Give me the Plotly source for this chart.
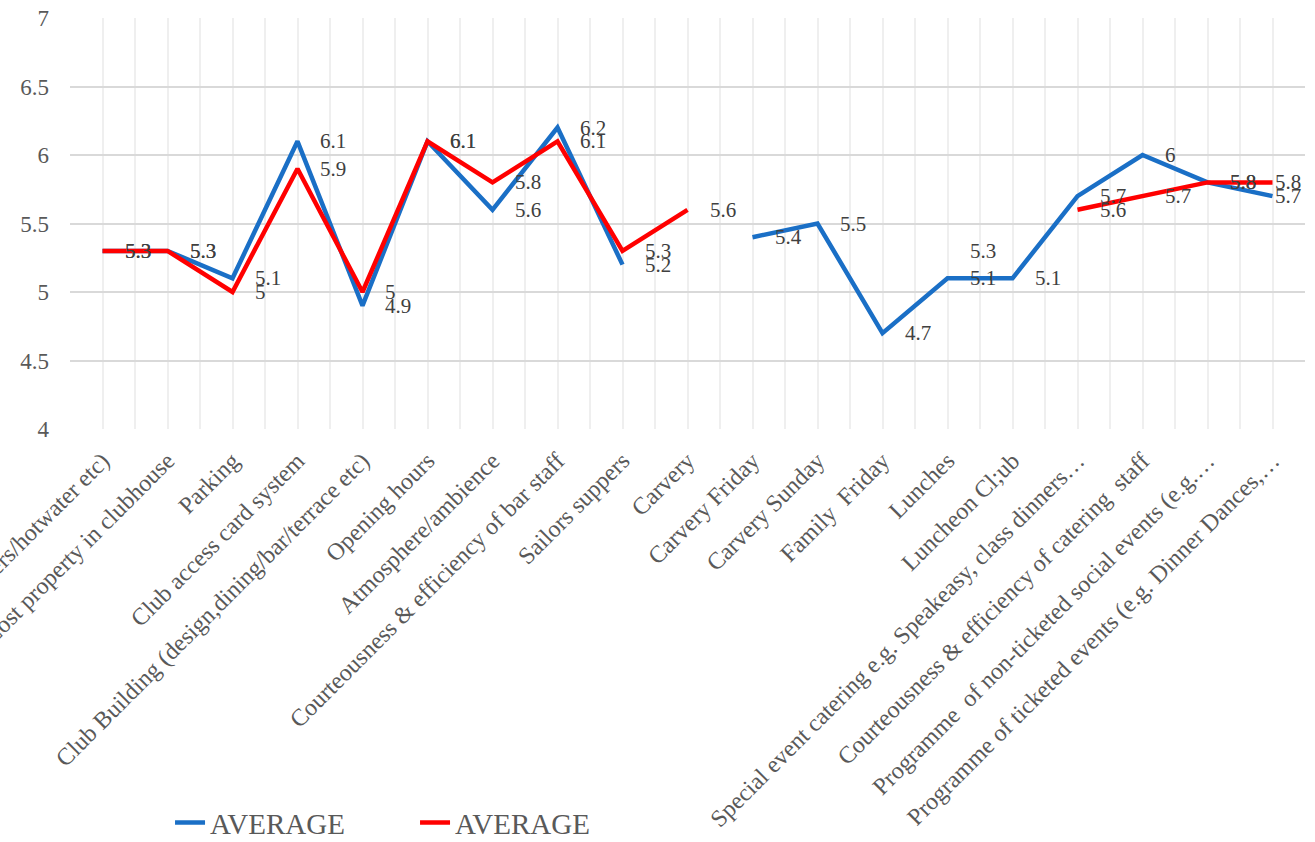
import plotly.graph_objects as go

# Survey items (x axis)
categories = [
    "Changing rooms (showers/hotwater etc)",
    "Lost property in clubhouse",
    "Parking",
    "Club access card system",
    "Club Building (design,dining/bar/terrace etc)",
    "Opening hours",
    "Atmosphere/ambience",
    "Courteousness & efficiency of bar staff",
    "Sailors suppers",
    "Carvery",
    "Carvery Friday",
    "Carvery Sunday",
    "Family  Friday",
    "Lunches",
    "Luncheon Cl;ub",
    "Special event catering e.g. Speakeasy, class dinners…",
    "Courteousness & efficiency of catering  staff",
    "Programme  of non-ticketed social events (e.g.…",
    "Programme of ticketed events (e.g. Dinner Dances,…",
]

# Average scores for the two survey series (None = no response)
average_blue = [5.3, 5.3, 5.1, 6.1, 4.9, 6.1, 5.6, 6.2, 5.2, None,
                5.4, 5.5, 4.7, 5.1, 5.1, 5.7, 6.0, 5.8, 5.7]
average_red = [5.3, 5.3, 5.0, 5.9, 5.0, 6.1, 5.8, 6.1, 5.3, 5.6,
               None, None, None, 5.3, None, 5.6, 5.7, 5.8, 5.8]

series_names = ["AVERAGE", "AVERAGE"]
y_ticks = [4, 4.5, 5, 5.5, 6, 6.5, 7]

BLUE = "#1a6fc6"
RED = "#ff0000"
FONT = "Liberation Serif, Times New Roman, serif"

x_pos = list(range(len(categories)))
last = len(categories) - 1

fig = go.Figure()
for name, values, color in [(series_names[0], average_blue, BLUE),
                            (series_names[1], average_red, RED)]:
    fig.add_trace(go.Scatter(
        x=x_pos, y=values, mode="lines", name=name,
        line=dict(color=color, width=4.5),
        connectgaps=False, hoverinfo="skip",
    ))

# Value labels to the right of each point (kept inside the plot at the last item)
annotations = []
for values in (average_blue, average_red):
    for i, v in enumerate(values):
        if v is None:
            continue
        annotations.append(dict(
            x=i, y=v, xref="x", yref="y", text=f"{v:g}",
            showarrow=False, xanchor="left", yanchor="middle",
            xshift=0 if i == last else 20,
            font=dict(family=FONT, size=21, color="#404040"),
        ))

fig.update_layout(
    width=1315, height=842,
    margin=dict(l=70, r=10, t=18, b=413, autoexpand=False),
    paper_bgcolor="white", plot_bgcolor="white",
    font=dict(family=FONT, color="#595959"),
    annotations=annotations,
    showlegend=True,
    legend=dict(
        orientation="h", x=0.081, xanchor="left",
        yref="container", y=0.023, yanchor="middle",
        font=dict(family=FONT, size=29, color="#595959"),
        entrywidth=200, entrywidthmode="pixels",
        bgcolor="rgba(0,0,0,0)",
    ),
)

fig.update_xaxes(
    range=[-0.5, len(categories) - 0.5],
    tickmode="array", tickvals=x_pos, ticktext=categories,
    tickangle=-45, tickfont=dict(family=FONT, size=24, color="#595959"),
    ticks="", ticklabelstandoff=12, ticklabeloverflow="allow",
    showgrid=True, gridcolor="#efefef", gridwidth=2,
    minor=dict(showgrid=True, tick0=0.5, dtick=1, gridcolor="#efefef", gridwidth=2),
    showline=False, zeroline=False, automargin=False,
)
fig.update_yaxes(
    range=[4, 7], tickmode="array", tickvals=y_ticks,
    ticktext=[f"{t:g}" for t in y_ticks],
    tickfont=dict(family=FONT, size=23, color="#595959"),
    ticks="", ticklabelstandoff=20,
    showgrid=True, gridcolor="#d9d9d9", gridwidth=2,
    showline=False, zeroline=False, automargin=False,
)

fig.write_html("out.html")
